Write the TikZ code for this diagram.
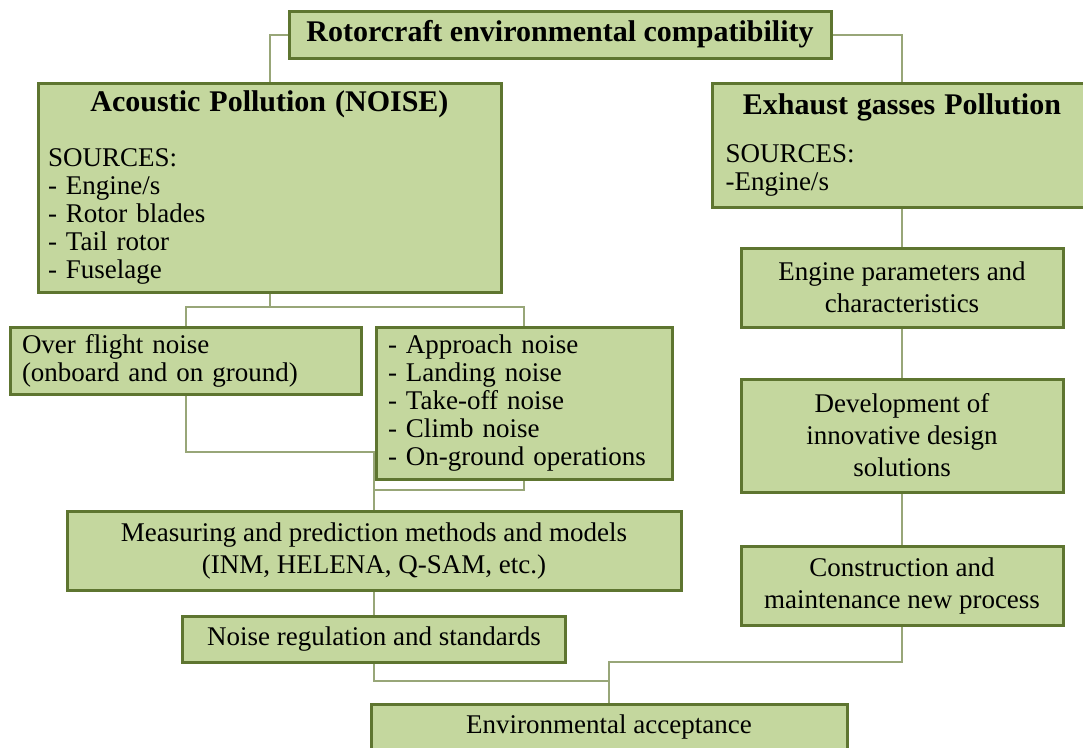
\documentclass[tikz,border=0pt]{standalone}
\usepackage{fontspec}
\setmainfont{Liberation Serif}
\usetikzlibrary{backgrounds}
\definecolor{boxfill}{RGB}{196,215,158}
\definecolor{boxline}{RGB}{94,117,48}
\definecolor{linkline}{RGB}{152,166,120}

\begin{document}
\begin{tikzpicture}[x=1pt, y=-1pt,
  box/.style={draw=boxline, line width=3pt, fill=boxfill, inner sep=0pt, align=center, font=\fontsize{27}{32}\selectfont},
  listbox/.style={box, align=left, font=\fontsize{27}{28}\selectfont},
  link/.style={draw=linkline, line width=2pt}]
  \useasboundingbox (0,0) rectangle (1083,747);

  \node[box, minimum width=542, minimum height=47, font=\fontsize{30}{32}\selectfont\bfseries] (top) at (560,34.5) {Rotorcraft environmental compatibility};
  \node[listbox, minimum width=463, minimum height=209, text width=443] (noise) at (269.5,187.5)
    {{\centering\fontsize{30}{32}\selectfont\bfseries Acoustic Pollution (NOISE)\par}\vspace{27pt}%
     SOURCES:\\- Engine/s\\- Rotor blades\\- Tail rotor\\- Fuselage};
  \node[listbox, minimum width=379, minimum height=124, text width=353] (exhaust) at (902,145)
    {{\centering\fontsize{30}{32}\selectfont\bfseries Exhaust gasses Pollution\par}\vspace{20pt}%
     SOURCES:\\-Engine/s};
  \node[listbox, minimum width=351, minimum height=67, text width=327] (over) at (185.5,361)
    {Over flight noise\\(onboard and on ground)};
  \node[listbox, minimum width=296, minimum height=152, text width=272] (appr) at (524,403.5)
    {- Approach noise\\- Landing noise\\- Take-off noise\\- Climb noise\\- On-ground operations};
  \node[box, minimum width=614, minimum height=79] (meas) at (374,551)
    {Measuring and prediction methods and models\\(INM, HELENA, Q-SAM, etc.)};
  \node[box, minimum width=383, minimum height=46] (reg) at (374,639) {Noise regulation and standards};
  \node[box, minimum width=476, minimum height=45] (env) at (609,727) {Environmental acceptance};
  \node[box, minimum width=322, minimum height=79] (eng) at (902,287.5) {Engine parameters and\\characteristics};
  \node[box, minimum width=322, minimum height=113] (dev) at (902,435.5) {Development of\\innovative design\\solutions};
  \node[box, minimum width=322, minimum height=79] (cons) at (902,585.5) {Construction and\\maintenance new process};

  \coordinate (j1) at (269.5,307);
  \coordinate (j2) at (374,452);
  \coordinate (j3) at (374,490);
  \coordinate (j4) at (609,681);
  \coordinate (j5) at (609,662);

  \begin{scope}[on background layer]
    \draw[link] (top.west) -| (noise.north);
    \draw[link] (top.east) -| (exhaust.north);
    \draw[link] (noise.south) -- (j1);
    \draw[link] (over.north) |- (j1) -| (appr.north);
    \draw[link] (over.south) |- (j2) -- (meas.north);
    \draw[link] (appr.south) |- (j3);
    \draw[link] (meas.south) -- (reg.north);
    \draw[link] (reg.south) |- (j4) -- (env.north);
    \draw[link] (cons.south) |- (j5) -- (j4);
    \draw[link] (exhaust.south) -- (eng.north);
    \draw[link] (eng.south) -- (dev.north);
    \draw[link] (dev.south) -- (cons.north);
  \end{scope}
\end{tikzpicture}
\end{document}
